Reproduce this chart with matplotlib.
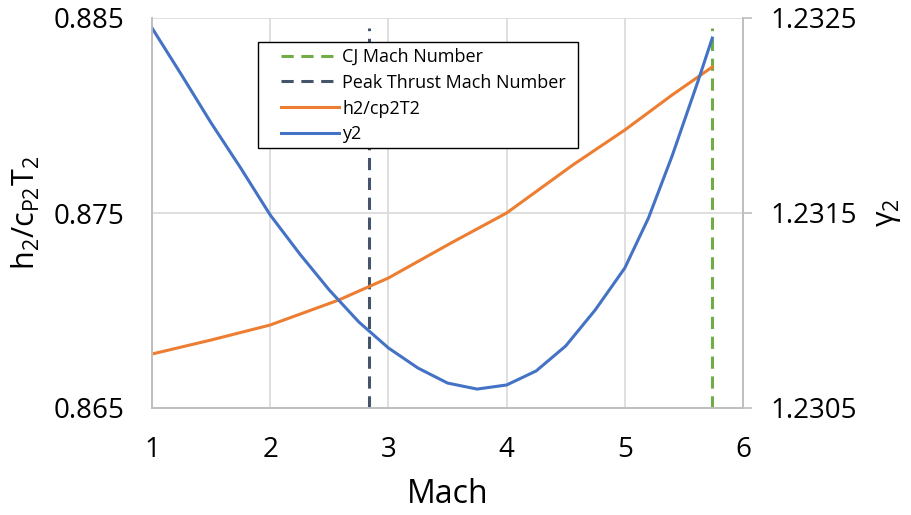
import matplotlib.pyplot as plt
from matplotlib.patches import Rectangle

plt.rcParams['font.family'] = ['Open Sans', 'DejaVu Sans']
plt.rcParams['mathtext.fontset'] = 'custom'
plt.rcParams['mathtext.rm'] = 'Open Sans'
plt.rcParams['mathtext.it'] = 'Open Sans'

# data
mach_y2 = [1.0, 1.25, 1.5, 1.75, 2.0, 2.25, 2.5, 2.75, 3.0, 3.25, 3.5, 3.75,
           4.0, 4.25, 4.5, 4.75, 5.0, 5.2, 5.4, 5.5, 5.62, 5.74]
y2 = [1.232449, 1.232208, 1.231962, 1.231731, 1.231490, 1.231290, 1.231105,
      1.230941, 1.230808, 1.230705, 1.230628, 1.230597, 1.230618, 1.230690,
      1.230818, 1.231003, 1.231218, 1.231474, 1.231792, 1.231967, 1.232177,
      1.232397]

mach_h = [1.0, 1.5, 2.0, 2.58, 3.0, 3.53, 4.0, 4.56, 5.0, 5.4, 5.74]
h_ratio = [0.867769, 0.868487, 0.869256, 0.870538, 0.871667, 0.873462,
           0.875000, 0.877462, 0.879256, 0.881051, 0.882487]

cj_mach = 5.74
peak_mach = 2.84
vline_y = [0.865, 0.8845]

blue = '#4472C4'
orange = '#ED7D31'
green = '#70AD47'
slate = '#44546A'
grid_c = '#D9D9D9'
spine_c = '#BFBFBF'

fig = plt.figure(figsize=(9.11, 5.15), dpi=100)
ax = fig.add_axes([152 / 911, 1 - 408 / 515, 591 / 911, 390 / 515])
ax2 = ax.twinx()

l1, = ax.plot([cj_mach, cj_mach], vline_y, color=green, lw=2.2, dashes=(4, 2.5),
              label='CJ Mach Number')
l2, = ax.plot([peak_mach, peak_mach], vline_y, color=slate, lw=2.2, dashes=(4, 2.5),
              label='Peak Thrust Mach Number')
l3, = ax.plot(mach_h, h_ratio, color=orange, lw=2.2, label='h2/cp2T2')
l4, = ax2.plot(mach_y2, y2, color=blue, lw=2.2, label='y2')

ax.set_xlim(1, 6)
ax.set_ylim(0.865, 0.885)
ax2.set_ylim(1.2305, 1.2325)
ax.set_xticks([1, 2, 3, 4, 5, 6])
ax.set_yticks([0.865, 0.875, 0.885])
ax.set_yticklabels(['0.865', '0.875', '0.885'])
ax2.set_yticks([1.2305, 1.2315, 1.2325])
ax2.set_yticklabels(['1.2305', '1.2315', '1.2325'])

ax.grid(True, color=grid_c, lw=1.2)
ax.set_axisbelow(True)
for a in (ax, ax2):
    for s in a.spines.values():
        s.set_color(spine_c)
        s.set_linewidth(1.2)
    a.spines['top'].set_visible(False)
ax.tick_params(axis='x', length=0, labelsize=20, pad=20)
ax.tick_params(axis='y', length=0, labelsize=20, pad=20)
ax2.tick_params(axis='y', length=6.5, color=spine_c, width=1.2, labelsize=20, pad=13)

ax.set_xlabel('Mach', fontsize=23, labelpad=10)
ax.set_ylabel(r'h$_2$/c$_{P2}$T$_2$', fontsize=22, labelpad=8)
ax2.set_ylabel(r'γ$_2$', fontsize=22, rotation=90, labelpad=12)

# legend box drawn like the Excel one (wide left margin)
box = Rectangle((258 / 911, 1 - 148 / 515), 320 / 911, 106 / 515,
                transform=fig.transFigure, facecolor='white', edgecolor='black',
                lw=1.0, zorder=4)
fig.add_artist(box)
leg = fig.legend(handles=[l1, l2, l3, l4], loc='upper left',
                 bbox_to_anchor=(281 / 911, 1 - 48 / 515), fontsize=13,
                 frameon=False, handlelength=3.2, labelspacing=0.43,
                 borderpad=0, handletextpad=0.2, borderaxespad=0)
leg.set_zorder(5)

fig.savefig('out.png', dpi=100)
